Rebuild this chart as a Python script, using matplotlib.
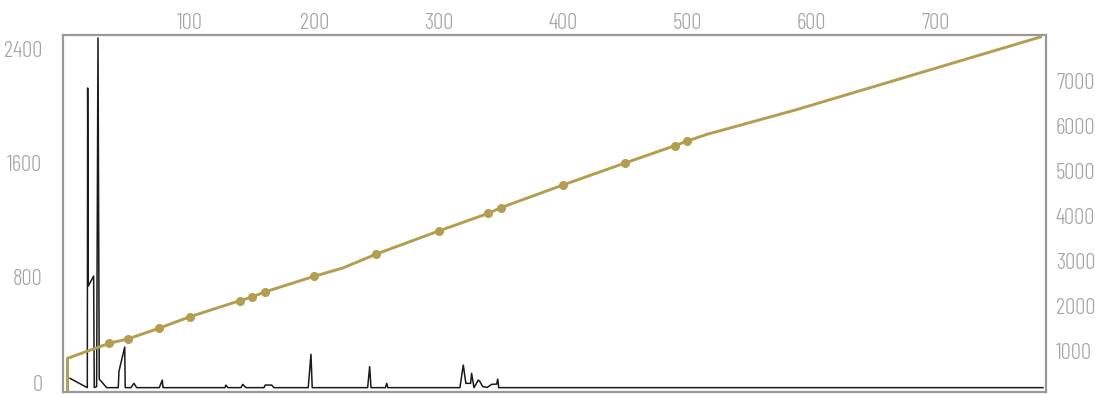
import matplotlib
matplotlib.use("Agg")
import matplotlib.pyplot as plt
import matplotlib.transforms as mtransforms
from matplotlib import font_manager as fm
from matplotlib.textpath import TextPath

# ---- data ----
black_x = [3.5, 17.4, 17.7, 18.2, 22.5, 23.0, 24.9, 26.0, 27.0, 33.0, 42.3, 42.9, 47.5, 47.9,
           52.5, 54.9, 57.1, 75.3, 77.7, 78.3, 128.1, 128.9, 130.5, 141.0, 142.4, 145.0,
           159.5, 160.5, 165.7, 167.5, 195.1, 197.3, 198.3, 242.9, 244.5, 245.6, 257.2,
           258.2, 259.2, 317.1, 319.8, 321.9, 325.7, 326.5, 328.4, 331.9, 333.2, 335.4,
           339.1, 342.6, 346.7, 347.5, 348.3, 786]
black_y = [92, 27, 2124, 738, 808, 28, 34, 2474, 87, 27, 27, 143, 311, 27,
           27, 57, 27, 27, 80, 27, 27, 45, 27, 27, 50, 27,
           27, 45, 45, 27, 27, 260, 27, 27, 174, 27, 27,
           57, 27, 27, 185, 57, 57, 127, 27, 80, 69, 34,
           29, 50, 52, 87, 27, 27]

gold_x = [1.5, 1.5, 35, 50, 75, 100, 140, 150, 160, 200, 223, 250, 300, 340, 350,
          400, 450, 490, 500, 516, 587, 784]
gold_y = [0, 838, 1171, 1267, 1504, 1761, 2116, 2198, 2309, 2658, 2842, 3152, 3662,
          4055, 4179, 4683, 5171, 5555, 5659, 5808, 6347, 7966]
gold_marker_x = [35, 50, 75, 100, 140, 150, 160, 200, 250, 300, 340, 350, 400, 450, 490, 500]
gold_marker_y = [1171, 1267, 1504, 1761, 2116, 2198, 2309, 2658, 3152, 3662, 4055, 4179,
                 4683, 5171, 5555, 5659]

x_ticks = [100, 200, 300, 400, 500, 600, 700]
left_ticks = [0, 800, 1600, 2400]
right_ticks = [1000, 2000, 3000, 4000, 5000, 6000, 7000]

GOLD = "#b39d50"
GRAY = "#999999"
LABEL = "#a3a3a3"

# ---- pick a light condensed font ----
available = {}
for f in fm.fontManager.ttflist:
    available.setdefault(f.name, set()).add(f.weight if isinstance(f.weight, int) else 400)
prefs = [("Barlow Condensed", 300), ("Roboto Condensed", 300), ("Pathway Gothic One", 400),
         ("Oswald", 300), ("Encode Sans Condensed", 300), ("Liberation Sans Narrow", 400),
         ("BenchNine", 300), ("Yanone Kaffeesatz", 300), ("Roboto", 300)]
fam, wt = "DejaVu Sans", 400
for name, w in prefs:
    if name in available:
        ws = available[name]
        fam = name
        wt = min(ws, key=lambda v: abs(v - w))
        break
fp = fm.FontProperties(family=[fam, "DejaVu Sans"], weight=wt)

# size the labels so digits are ~16.7 px tall and "2400" ~33 px wide
ext = TextPath((0, 0), "2400", size=10, prop=fp).get_extents()
px_per_pt = 100 / 72
fs_h = 10 * (16.7 / px_per_pt) / ext.height
fs_w = 10 * (33.5 / px_per_pt) / ext.width
FS = min(fs_h, fs_w * 1.08)

fig = plt.figure(figsize=(10.95, 3.94), dpi=100)
ax = fig.add_axes([63.3 / 1095, 2.5 / 394, (1046 - 63.3) / 1095, (391.5 - 35) / 394])
ax2 = ax.twinx()

ax.plot(black_x, black_y, color="#1a1a1a", lw=1.1, zorder=2)
ax2.plot(gold_x, gold_y, color=GOLD, lw=2.1, zorder=3, solid_joinstyle="round")
ax2.plot(gold_marker_x, gold_marker_y, "o", color=GOLD, ms=5.5, zorder=4)

ax.set_xlim(-1.9, 788.5)
ax.set_ylim(0, 2495)
ax2.set_ylim(102, 8010)

ax.xaxis.tick_top()
ax.set_xticks(x_ticks)
ax.set_xticklabels([str(v) for v in x_ticks])
ax.set_yticks(left_ticks)
ax.set_yticklabels([str(v) for v in left_ticks])
ax2.set_yticks(right_ticks)
ax2.set_yticklabels([str(v) for v in right_ticks])

ax.tick_params(axis="x", length=0, pad=0.8, labelcolor=LABEL)
ax.tick_params(axis="y", length=0, pad=15, labelcolor=LABEL)
ax2.tick_params(axis="y", length=0, pad=7.2, labelcolor=LABEL)

for lab in ax.get_xticklabels() + ax.get_yticklabels() + ax2.get_yticklabels():
    lab.set_fontproperties(fp)
    lab.set_fontsize(FS)

# raise the "0" label so it stays inside the figure
zero_lab = ax.get_yticklabels()[0]
zero_lab.set_transform(zero_lab.get_transform() +
                       mtransforms.ScaledTranslation(0, 8.5 / 100, fig.dpi_scale_trans))

for s in ax.spines.values():
    s.set_color(GRAY)
    s.set_linewidth(1.6)
for s in ax2.spines.values():
    s.set_visible(False)

fig.savefig("out.png", dpi=100)
